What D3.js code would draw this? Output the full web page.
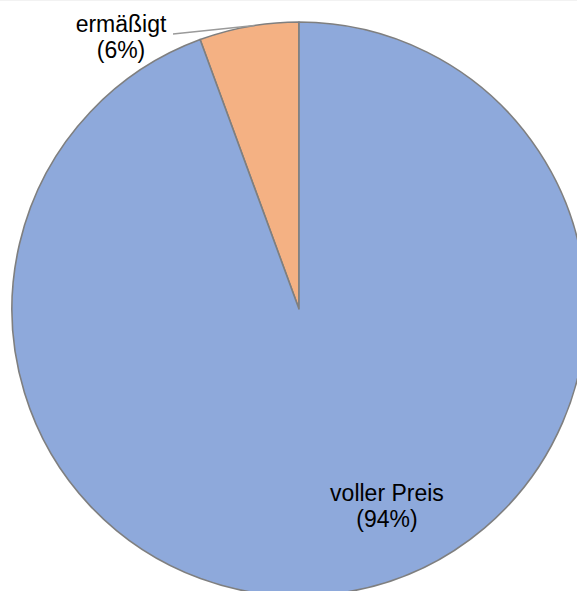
<!DOCTYPE html>
<html><head><meta charset="utf-8">
<script src="https://cdn.jsdelivr.net/npm/d3@7"></script>
<style>html,body{margin:0;padding:0;background:#fff;overflow:hidden}</style>
</head><body>
<svg id="c" width="577" height="591"></svg>
<script>
const categories = ["ermäßigt", "voller Preis"];
const values = [5.6, 94.4];
const percentLabels = ["(6%)", "(94%)"];
const colors = ["#F4B183", "#8EA9DB"];

const svg = d3.select("#c");
svg.append("rect").attr("x",0).attr("y",0).attr("width",577).attr("height",1).attr("fill","#f2f2f2");
const cx = 299, cy = 309, r = 287;
const g = svg.append("g").attr("transform", `translate(${cx},${cy})`);

const pie = d3.pie().sort(null).startAngle(0).endAngle(-2*Math.PI);
const arcs = pie(values);
const arc = d3.arc().innerRadius(0).outerRadius(r);

g.selectAll("path").data(arcs).join("path")
  .attr("d", arc)
  .attr("fill", (d,i) => colors[i])
  .attr("stroke", "#7f7f7f")
  .attr("stroke-width", 1.6)
  .attr("stroke-linejoin", "round");

// leader line for small slice
const a0 = arcs[0];
const mid = (a0.startAngle + a0.endAngle) / 2 + 0.02;
const px = Math.sin(mid) * r, py = -Math.cos(mid) * r;
g.append("path")
  .attr("d", `M${173-cx},${34-cy}L${px},${py}`)
  .attr("fill","none").attr("stroke","#9a9a9a").attr("stroke-width",1.4);

const font = "Liberation Sans, Arial, sans-serif";
const labelPos = [[121 - cx, 32 - cy], [387 - cx, 501 - cy]];
arcs.forEach((d,i) => {
  const t = g.append("text")
    .attr("x", labelPos[i][0]).attr("y", labelPos[i][1])
    .attr("text-anchor","middle")
    .attr("font-family", font).attr("font-size", 23)
    .attr("fill","#000");
  t.append("tspan").attr("x", labelPos[i][0]).text(categories[i]);
  t.append("tspan").attr("x", labelPos[i][0]).attr("dy", 26).text(percentLabels[i]);
});
</script>
</body></html>
